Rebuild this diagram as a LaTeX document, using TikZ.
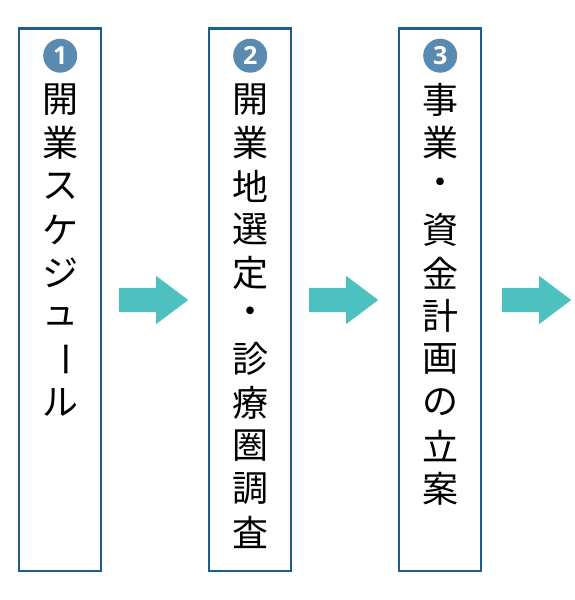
\documentclass[tikz,border=0pt]{standalone}
\usepackage{fontspec}
\newfontfamily\jpfont{Noto Sans CJK JP}
\newfontfamily\numfont{Open Sans}
\usetikzlibrary{positioning, shapes.arrows}
\definecolor{boxblue}{HTML}{1F5D8C}
\definecolor{numblue}{HTML}{5A8AB0}
\definecolor{arrowteal}{HTML}{4CC1C0}

\begin{document}
\begin{tikzpicture}[
    x=1pt, y=1pt,
    node distance=105.5pt,
    stepbox/.style={draw=boxblue, line width=2.5pt, minimum width=82pt, minimum height=542.5pt, inner sep=0pt},
    stepnum/.style={circle, fill=numblue, text=white, minimum size=34pt, inner sep=0pt, font=\numfont\bfseries\fontsize{25}{25}\selectfont},
    steptext/.style={inner sep=0pt, font=\jpfont\fontsize{36}{36}\selectfont},
    flow/.style={single arrow, fill=arrowteal, minimum height=69pt, inner xsep=0pt, inner ysep=12pt, single arrow head extend=12pt, single arrow tip angle=74}
]
    \useasboundingbox (0,0) rectangle (575,600);

    % boxes
    \node[stepbox] (box1) at (60.2,300) {};
    \node[stepbox, right=of box1] (box2) {};
    \node[stepbox, right=of box2] (box3) {};

    % numbers
    \node[stepnum, below=11pt of box1.north] (num1) {1};
    \node[stepnum, below=11pt of box2.north] (num2) {2};
    \node[stepnum, below=11pt of box3.north] (num3) {3};

    % vertical texts
    \foreach \ch [count=\i from 0] in {開,業,ス,ケ,ジ,ュ,{\rotatebox[origin=c]{-90}{ー}},ル}
        \node[steptext] (txt1-\i) at ([yshift={-72.5pt-\i*43.2pt}]box1.north) {\ch};
    \foreach \ch [count=\i from 0] in {開,業,地,選,定,・,診,療,圏,調,査}
        \node[steptext] (txt2-\i) at ([yshift={-72.5pt-\i*43.2pt}]box2.north) {\ch};
    \foreach \ch [count=\i from 0] in {事,業,・,資,金,計,画,の,立,案}
        \node[steptext] (txt3-\i) at ([yshift={-72.5pt-\i*43.2pt}]box3.north) {\ch};

    % arrows
    \node[flow, right=16.5pt of box1] (arrow1) {};
    \node[flow, right=16.5pt of box2] (arrow2) {};
    \node[flow, right=19.5pt of box3] (arrow3) {};
\end{tikzpicture}
\end{document}
